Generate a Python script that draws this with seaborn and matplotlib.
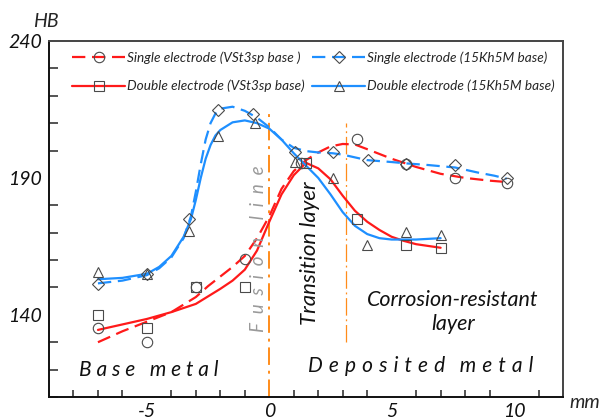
import matplotlib
matplotlib.use("Agg")
import matplotlib.pyplot as plt
import seaborn as sns
from matplotlib.lines import Line2D
from matplotlib.ticker import MultipleLocator

# ---------------- data ----------------
# measured points
sv_x = [-7, -5, -3, -1, 1.3, 3.6, 5.6, 7.6, 9.7]                    # single, VSt3sp (circles)
sv_y = [135.3, 130.1, 150.3, 160.4, 195.5, 204.3, 195.2, 190.0, 188.3]
dv_x = [-7, -5, -3, -1, 1.5, 3.6, 5.6, 7.0]                          # double, VSt3sp (squares)
dv_y = [140.1, 135.3, 150.2, 150.3, 195.5, 175.0, 165.6, 164.3]
sk_x = [-7, -5, -3.3, -2.1, -0.65, 1.05, 2.6, 4.05, 5.6, 7.6, 9.7]  # single, 15Kh5M (diamonds)
sk_y = [151.3, 154.9, 174.9, 214.9, 213.3, 199.4, 199.3, 196.7, 195.2, 194.8, 190.1]
dk_x = [-7, -5, -3.3, -2.1, -0.6, 1.05, 2.6, 4.0, 5.6, 7.0]          # double, 15Kh5M (triangles)
dk_y = [155.5, 155.0, 170.7, 205.3, 210.1, 195.8, 190.1, 165.6, 170.4, 169.2]

# smoothed curves (as drawn in the reference)
sv_cx = [-7, -6, -5, -4, -3, -2.5, -2, -1.5, -1, -0.5, 0, 0.5, 1, 1.5, 2, 2.5, 3, 3.5, 4, 5, 6, 7, 8, 9, 9.7]
sv_cy = [130, 134, 137.5, 141, 146.5, 150.5, 154, 157.5, 161.5, 168, 176, 186, 192.5, 196.5, 199.3, 201.5, 202.4, 202.2, 200.5, 197, 194, 191.5, 190, 189, 188.5]
dv_cx = [-7, -6, -5, -4, -3, -2, -1.5, -1, -0.5, 0, 0.5, 1, 1.5, 2, 2.5, 3, 3.5, 4, 4.5, 5, 5.5, 6, 7]
dv_cy = [134.5, 136.5, 138.5, 141, 144, 149.5, 152.5, 156.5, 163.5, 174, 184, 191, 195.5, 193.5, 189.5, 183.5, 178, 174, 171, 168.5, 167, 165.8, 164.5]
sk_cx = [-7, -6, -5, -4.5, -4, -3.5, -3.2, -3, -2.8, -2.6, -2.4, -2.2, -2, -1.5, -1, -0.5, 0, 0.5, 1, 1.5, 2, 2.6, 3, 4, 5, 5.6, 6.5, 7.6, 8.5, 9.2, 9.7]
sk_cy = [151.5, 152.5, 154.5, 157, 161, 168, 176, 185, 195, 204, 210, 213.5, 215.3, 216, 214.5, 212, 208.5, 204, 201, 199.8, 199.3, 199, 198.5, 196.5, 195.8, 195.3, 194.7, 193.8, 192, 190.8, 189.7]
dk_cx = [-7, -6, -5, -4.5, -4, -3.5, -3.2, -3, -2.8, -2.6, -2.4, -2.2, -2, -1.5, -1, -0.5, 0, 0.5, 1, 1.5, 2, 2.5, 3, 3.5, 4, 4.5, 5, 6, 7]
dk_cy = [153, 153.5, 155, 157.5, 161.5, 168.5, 175, 182, 190, 197, 202, 205.5, 207.5, 210.3, 211, 210, 208, 204, 199, 194.5, 190, 184, 177.5, 172.5, 169.5, 168, 167.5, 167.5, 168]

labels = ["Single electrode (VSt3sp base )", "Double electrode (VSt3sp base)",
          "Single electrode (15Kh5M base)", "Double electrode (15Kh5M base)"]

boundary_x = [0, 3.15]
boundary_lo = [110, 130]
boundary_hi = [215, 210]

x_major = [-5, 0, 5, 10]
y_major = [140, 190, 240]

# ---------------- style ----------------
sns.set_theme(style="white")
plt.rcParams["font.family"] = ["Lato", "DejaVu Sans"]
plt.rcParams["font.style"] = "italic"

RED = "#ff1a1a"
BLUE = "#1e8fff"
ORANGE = "#ff8c1a"
MK = "#4a4a4a"
DASH = (0, (6, 3))

fig = plt.figure(figsize=(6.04, 4.19), dpi=100)
ax = fig.add_axes([49 / 604, 22 / 419, (563 - 49) / 604, (397 - 41) / 419])

# boundary lines
ax.vlines(boundary_x[0], boundary_lo[0], boundary_hi[0], color=ORANGE, lw=1.4,
          linestyles=[(0, (9, 3, 1.5, 3))], zorder=1)
ax.vlines(boundary_x[1], boundary_lo[1], boundary_hi[1], color=ORANGE, lw=0.9,
          linestyles=[(0, (14, 3, 1.5, 3))], zorder=1)

# curves
sns.lineplot(x=sv_cx, y=sv_cy, ax=ax, color=RED, lw=1.6, linestyle=DASH, zorder=2)
sns.lineplot(x=dv_cx, y=dv_cy, ax=ax, color=RED, lw=1.6, zorder=2)
sns.lineplot(x=sk_cx, y=sk_cy, ax=ax, color=BLUE, lw=1.6, linestyle=DASH, zorder=2)
sns.lineplot(x=dk_cx, y=dk_cy, ax=ax, color=BLUE, lw=1.6, zorder=2)

# markers
mk_kw = dict(linestyle="none", mfc="none", mec=MK, mew=0.8, zorder=3)
sns.lineplot(x=sv_x, y=sv_y, ax=ax, marker="o", markersize=7.5, **mk_kw)
sns.lineplot(x=dv_x, y=dv_y, ax=ax, marker="s", markersize=7.5, **mk_kw)
sns.lineplot(x=sk_x, y=sk_y, ax=ax, marker="D", markersize=6, **mk_kw)
sns.lineplot(x=dk_x, y=dk_y, ax=ax, marker="^", markersize=7.5, **mk_kw)

# axes
ax.set_xlim(-9, 12)
ax.set_ylim(110, 240)
ax.set_xticks(x_major)
ax.set_yticks(y_major)
ax.xaxis.set_minor_locator(MultipleLocator(1))
ax.yaxis.set_minor_locator(MultipleLocator(10))
ax.tick_params(axis="y", which="major", direction="in", length=11.5, width=1.1,
               labelsize=14, pad=5, colors="#111")
ax.tick_params(axis="y", which="minor", direction="in", length=6.5, width=1.1, left=True)
ax.tick_params(axis="x", which="major", direction="in", length=10, width=1.1,
               labelsize=14, pad=4, colors="#111")
ax.tick_params(axis="x", which="minor", direction="in", length=5, width=1.1, bottom=True)
ax.set_xticklabels([str(v) for v in x_major])
ax.set_yticklabels([str(v) for v in y_major])
for s in ["left", "bottom"]:
    ax.spines[s].set_color("#111")
    ax.spines[s].set_linewidth(1.4)
for s in ["top", "right"]:
    ax.spines[s].set_color("#444")
    ax.spines[s].set_linewidth(1.4)
ax.set_xlabel("")
ax.set_ylabel("")

# axis unit labels
fig.text(33 / 604, 1 - 27 / 419, "HB", fontsize=14, ha="left", va="baseline")
fig.text(569 / 604, 1 - 408 / 419, "mm", fontsize=14, ha="left", va="baseline")

# annotations
HS = " \u200a"
ax.text(-0.45, 164, "F  u  s  i  o  n    l  i  n  e", rotation=90, ha="center", va="center",
        fontsize=13.5, color="#9a9a9a")
ax.text(1.68, 162.5, "Transition layer", rotation=90, ha="center", va="center",
        fontsize=16, color="#111")
ax.text(7.5, 141, "Corrosion-resistant\nlayer", ha="center", va="center",
        fontsize=15.5, color="#111", linespacing=1.25)
ax.text(-7.79, 117.8, "B a s e   m e t a l", ha="left", va="baseline",
        fontsize=15, color="#111")
ax.text(1.6, 119.3, HS.join("Deposited") + "   " + HS.join("metal"), ha="left", va="baseline",
        fontsize=15, color="#111")

# legend
handles = [
    Line2D([], [], color=RED, lw=1.6, linestyle=DASH, marker="o", markersize=7.5, mfc="none", mec=MK, mew=0.8),
    Line2D([], [], color=RED, lw=1.6, marker="s", markersize=7.5, mfc="none", mec=MK, mew=0.8),
    Line2D([], [], color=BLUE, lw=1.6, linestyle=DASH, marker="D", markersize=6, mfc="none", mec=MK, mew=0.8),
    Line2D([], [], color=BLUE, lw=1.6, marker="^", markersize=7.5, mfc="none", mec=MK, mew=0.8),
]
ax.legend(handles, labels, ncol=2, loc="upper left", bbox_to_anchor=(0.045, 0.972),
          frameon=False, fontsize=9.8, handlelength=3.9, handletextpad=0.1,
          columnspacing=0.6, labelspacing=1.2, borderpad=0, borderaxespad=0, numpoints=1)

fig.savefig("out.png", dpi=100)
